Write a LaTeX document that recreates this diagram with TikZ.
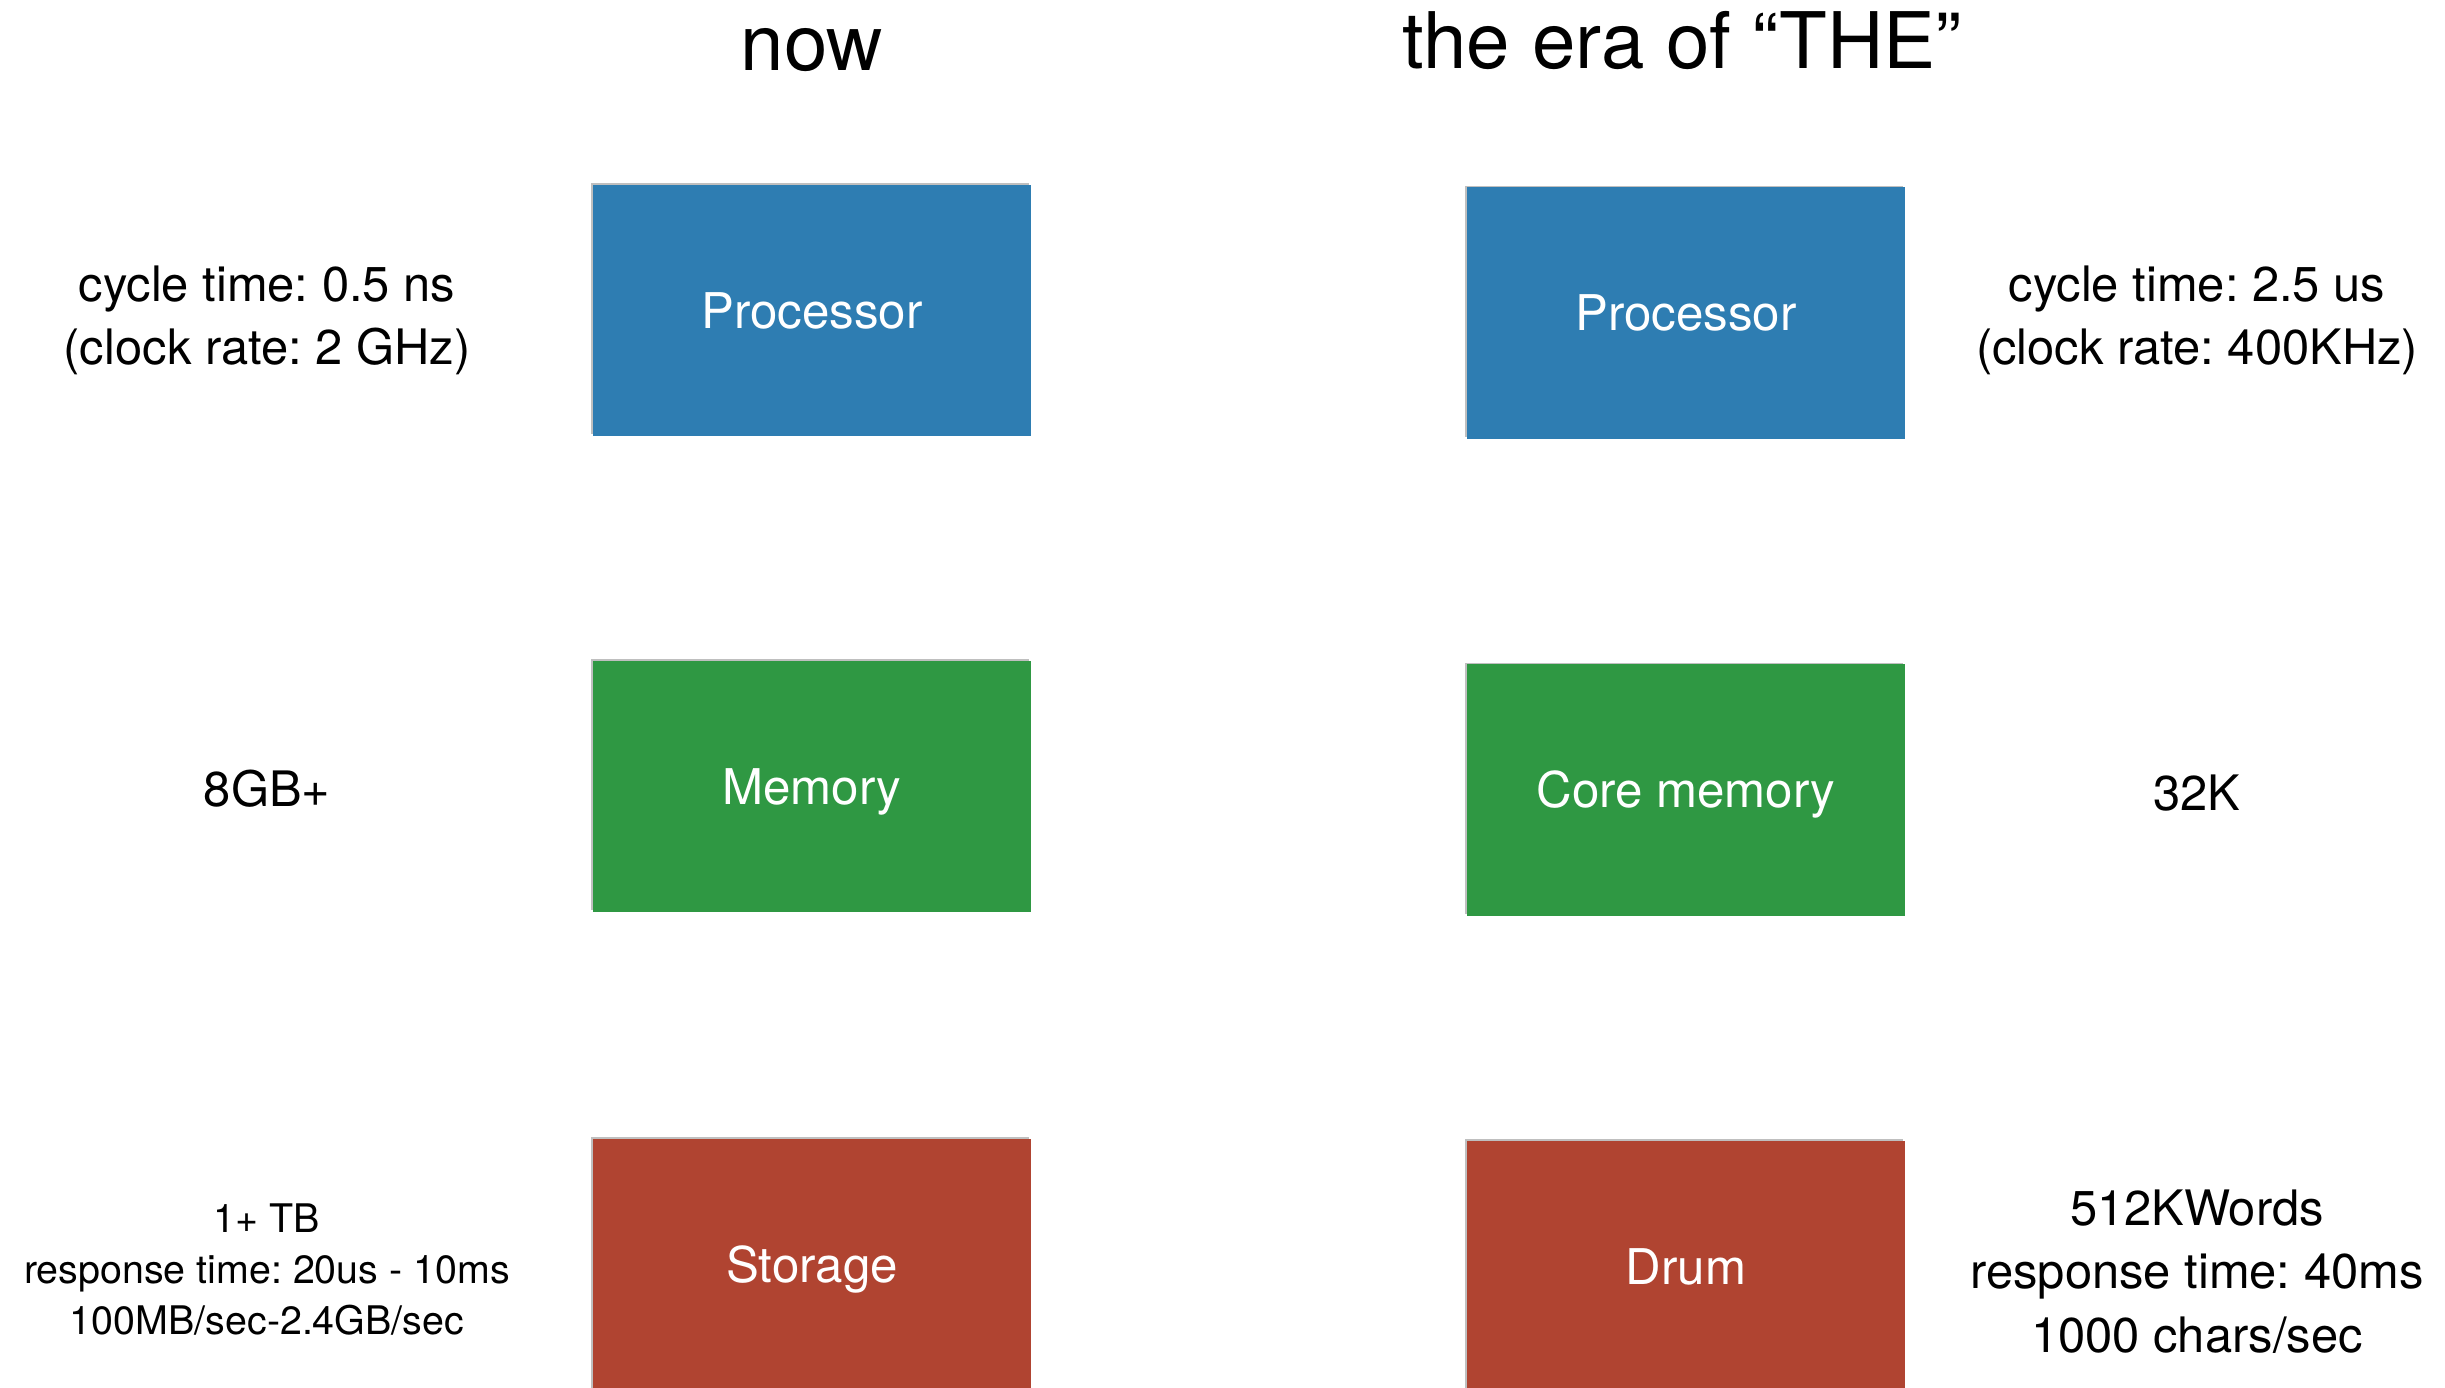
\documentclass[tikz,border=0pt]{standalone}
\usepackage{fontspec}
\setmainfont{TeX Gyre Heros}
\usetikzlibrary{shadows}
\definecolor{procblue}{HTML}{2E7DB2}
\definecolor{memgreen}{HTML}{2F9843}
\definecolor{storered}{HTML}{B04431}
\tikzset{
  unitbox/.style={rectangle, draw=none, minimum width=4.38cm, minimum height=2.51cm,
    inner sep=0pt, text=white, font=\fontsize{14}{16}\selectfont,
    text height=10pt, text depth=0pt,
    general shadow={fill=black, opacity=0.25, shadow xshift=-0.5pt, shadow yshift=0.5pt}},
  heading/.style={anchor=base, inner sep=0pt, font=\fontsize{22.2}{26}\selectfont},
  info/.style={anchor=base, inner sep=0pt, font=\fontsize{13.9}{16}\selectfont},
  smallinfo/.style={anchor=base, inner sep=0pt, font=\fontsize{11.2}{13}\selectfont}
}
\frenchspacing
\begin{document}
\begin{tikzpicture}[x=0.01cm, y=-0.01cm]
  \useasboundingbox (0,0) rectangle (2445,1388);
  \fill[white] (0,0) rectangle (2445,1388);

  % column headings
  \node[heading] (hnow) at (812,71) {now};
  \node[heading] (hthe) at (1682,69) {the era of \char"201C THE\char"201D};

  % present-day machine
  \node[unitbox, fill=procblue] (lproc) at (812,310.5) {Processor};
  \node[unitbox, fill=memgreen] (lmem) at (812,786.5) {Memory};
  \node[unitbox, fill=storered] (lstor) at (812,1264.5) {Storage};

  % THE machine
  \node[unitbox, fill=procblue] (rproc) at (1686,313) {Processor};
  \node[unitbox, fill=memgreen] (rmem) at (1686,790) {Core memory};
  \node[unitbox, fill=storered] (rdrum) at (1686,1266.5) {Drum};

  % figures for the present-day machine
  \node[info] (lcyc) at (267,301) {cycle time: 0.5 ns};
  \node[info] (lclk) at (267,364) {(clock rate: 2 GHz)};
  \node[info] (lmemsz) at (267,806) {8GB+};
  \node[smallinfo] (lcap) at (267,1232) {1+ TB};
  \node[smallinfo] (lresp) at (267,1283) {response time: 20us - 10ms};
  \node[smallinfo] (lbw) at (267,1334) {100MB/sec-2.4GB/sec};

  % figures for THE
  \node[info] (rcyc) at (2197,301) {cycle time: 2.5 us};
  \node[info] (rclk) at (2197,364) {(clock rate: 400KHz)};
  \node[info] (rmemsz) at (2197,810) {32K};
  \node[info] (rcap) at (2197,1225) {512KWords};
  \node[info] (rresp) at (2197,1288) {response time: 40ms};
  \node[info] (rbw) at (2197,1352) {1000 chars/sec};
\end{tikzpicture}
\end{document}
